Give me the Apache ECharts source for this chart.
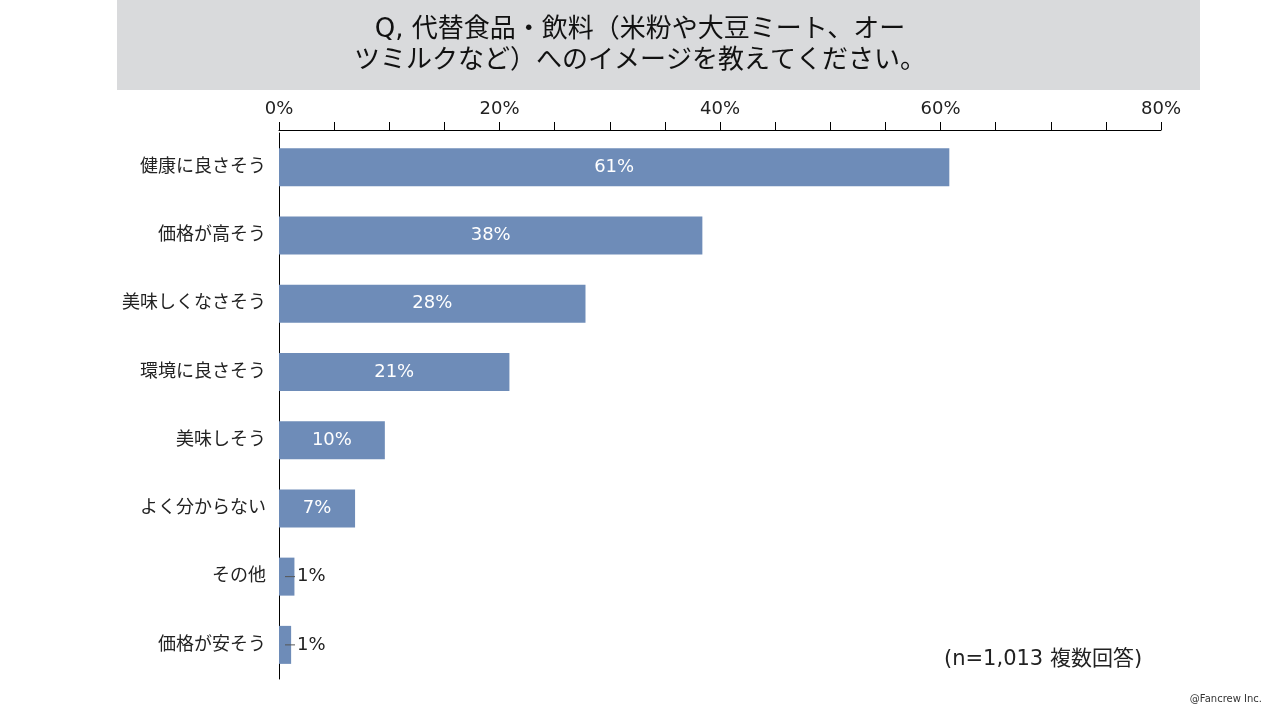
<!DOCTYPE html>
<html>
<head>
<meta charset="utf-8">
<script src="https://cdn.jsdelivr.net/npm/echarts@6/dist/echarts.min.js"></script>
<style>
  html, body { margin: 0; padding: 0; background: #fff; }
  #chart { width: 1280px; height: 720px; }
</style>
</head>
<body>
<div id="chart"></div>
<script>
// 項目（上から順）
const categories = ['健康に良さそう', '価格が高そう', '美味しくなさそう', '環境に良さそう', '美味しそう', 'よく分からない', 'その他', '価格が安そう']
// 回答率（%）
const values = [60.8, 38.4, 27.8, 20.9, 9.6, 6.9, 1.4, 1.1]
const titleLines = ['Q, 代替食品・飲料（米粉や大豆ミート、オー', 'ツミルクなど）へのイメージを教えてください。']
const note = '(n=1,013 複数回答)'
const credit = '@Fancrew Inc.'

const FONT = '"DejaVu Sans", "Noto Sans CJK JP", sans-serif'
const barColor = '#6e8cb8'

// 小さい値はバーの外にラベル（引き出し線付き）
const seriesData = values.map(function (v) {
    if (v < 5) {
        return {
            value: v,
            label: {
                position: [6, '50%'],
                verticalAlign: 'middle',
                align: 'left',
                formatter: function (p) {
                    return '{ln|}{t|' + Math.round(p.value) + '%}'
                },
                rich: {
                    ln: { width: 10, height: 1, backgroundColor: '#555' },
                    t: { color: '#222', fontSize: 18, fontFamily: FONT, padding: [0, 0, 0, 2] }
                }
            }
        }
    }
    return v
})

const option = {
    animation: false,
    backgroundColor: '#fff',
    graphic: [
        {
            type: 'rect',
            left: 117,
            top: 0,
            shape: { width: 1083, height: 90 },
            style: { fill: '#d9dadc' },
            z: -1
        },
        {
            type: 'text',
            left: 'center',
            top: 17,
            style: { text: titleLines[0], fill: '#111', font: '26px ' + FONT }
        },
        {
            type: 'text',
            left: 'center',
            top: 48,
            style: { text: titleLines[1], fill: '#111', font: '26px ' + FONT }
        },
        {
            type: 'text',
            left: 944,
            top: 649,
            style: { text: note, fill: '#222', font: '21px ' + FONT }
        },
        {
            type: 'text',
            right: 18,
            top: 694,
            style: { text: credit, fill: '#333', font: '10px ' + FONT }
        }
    ],
    grid: {
        left: 279,
        right: 119,
        top: 133,
        bottom: 41,
        containLabel: false
    },
    xAxis: {
        type: 'value',
        position: 'top',
        offset: 3,
        min: 0,
        max: 80,
        interval: 5,
        axisLine: { show: true, lineStyle: { color: '#000', width: 1 } },
        axisTick: { show: true, length: 8, lineStyle: { color: '#000' } },
        splitLine: { show: false },
        axisLabel: {
            margin: 12,
            color: '#222',
            fontSize: 18,
            fontFamily: FONT,
            formatter: function (v) {
                return v % 20 === 0 ? v + '%' : ''
            }
        }
    },
    yAxis: {
        type: 'category',
        inverse: true,
        data: categories,
        axisLine: { show: true, lineStyle: { color: '#000', width: 1 } },
        axisTick: { show: false },
        axisLabel: {
            margin: 13,
            color: '#222',
            fontSize: 18,
            fontFamily: FONT
        }
    },
    series: [
        {
            type: 'bar',
            data: seriesData,
            barWidth: 38,
            itemStyle: { color: barColor },
            label: {
                show: true,
                position: 'inside',
                color: '#fff',
                fontSize: 18,
                fontFamily: FONT,
                formatter: function (p) {
                    return Math.round(p.value) + '%'
                }
            }
        }
    ]
}

const chart = echarts.init(document.getElementById('chart'))
chart.setOption(option)
window.addEventListener('resize', function () {
    chart.resize()
})
</script>
</body>
</html>
